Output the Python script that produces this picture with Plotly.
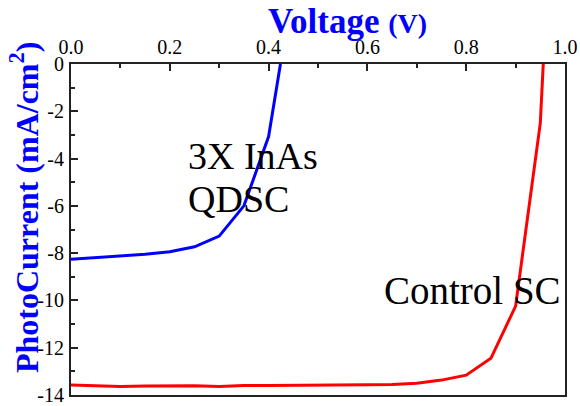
import plotly.graph_objects as go

# Photocurrent vs voltage for the two solar cells
voltage_qd = [0.0, 0.05, 0.1, 0.15, 0.2, 0.25, 0.3, 0.35, 0.4, 0.424]
current_qd = [-8.26, -8.2, -8.12, -8.05, -7.94, -7.73, -7.28, -6.0, -3.07, 0.0]

voltage_ctrl = [0.0, 0.05, 0.1, 0.15, 0.2, 0.25, 0.3, 0.35, 0.4, 0.45, 0.5, 0.55,
                0.6, 0.65, 0.7, 0.75, 0.8, 0.85, 0.9, 0.95, 0.956]
current_ctrl = [-13.58, -13.6, -13.64, -13.62, -13.6, -13.61, -13.64, -13.6, -13.6,
                -13.6, -13.6, -13.6, -13.57, -13.56, -13.5, -13.37, -13.16, -12.45,
                -10.24, -2.5, 0.0]

x_ticks = [0.0, 0.2, 0.4, 0.6, 0.8, 1.0]
y_ticks = [0, -2, -4, -6, -8, -10, -12, -14]
y_tick_labels = [str(v) for v in y_ticks]

SERIF = "Liberation Serif"
AXIS_COLOR = "#222222"

fig = go.Figure()
fig.add_trace(go.Scatter(x=voltage_qd, y=current_qd, mode="lines",
                         line=dict(color="#0000FF", width=3), showlegend=False))
fig.add_trace(go.Scatter(x=voltage_ctrl, y=current_ctrl, mode="lines",
                         line=dict(color="#FF0000", width=3), showlegend=False))

fig.update_xaxes(
    range=[0, 1], side="top", tickvals=x_ticks, tickformat=".1f",
    ticks="inside", ticklen=7, tickwidth=1.5, tickcolor=AXIS_COLOR,
    minor=dict(dtick=0.1, ticks="inside", ticklen=4, tickcolor=AXIS_COLOR, tickwidth=1.5),
    showline=True, linecolor=AXIS_COLOR, linewidth=2, mirror=True,
    showgrid=False, zeroline=False, automargin=False,
    tickfont=dict(family=SERIF, size=20, color="black"),
)
fig.update_yaxes(
    range=[-14, 0], tickvals=y_ticks, ticktext=y_tick_labels,
    ticks="inside", ticklen=7, tickwidth=1.5, tickcolor=AXIS_COLOR,
    minor=dict(dtick=1, ticks="inside", ticklen=4, tickcolor=AXIS_COLOR, tickwidth=1.5),
    showline=True, linecolor=AXIS_COLOR, linewidth=2, mirror=True,
    showgrid=False, zeroline=False, ticklabelstandoff=1, automargin=False,
    tickfont=dict(family=SERIF, size=20, color="black"),
)

annotations = [
    dict(text="<b>Voltage <span style='font-size:28px'>(V)</span></b>",
         xref="paper", yref="paper", x=0.395, y=1.128, xanchor="left", yanchor="middle",
         showarrow=False, font=dict(family=SERIF, size=35, color="#0000FF")),
    dict(text="<b>PhotoCurrent (mA/cm<sup>2</sup>)</b>",
         xref="paper", yref="paper", x=-0.095, y=0.565, xanchor="center", yanchor="middle",
         textangle=-90, showarrow=False, font=dict(family=SERIF, size=32, color="#0000FF")),
    dict(text="3X InAs", xref="x", yref="y", x=0.233, y=-3.87, xanchor="left",
         yanchor="middle", showarrow=False, font=dict(family=SERIF, size=38, color="black")),
    dict(text="QDSC", xref="x", yref="y", x=0.233, y=-5.73, xanchor="left",
         yanchor="middle", showarrow=False, font=dict(family=SERIF, size=38, color="black")),
    dict(text="Control SC", xref="x", yref="y", x=0.63, y=-9.58, xanchor="left",
         yanchor="middle", showarrow=False, font=dict(family=SERIF, size=39, color="black")),
]

fig.update_layout(
    width=580, height=406,
    margin=dict(l=71, r=15, t=64, b=11),
    paper_bgcolor="white", plot_bgcolor="white",
    annotations=annotations,
)

fig.write_html("out.html")
